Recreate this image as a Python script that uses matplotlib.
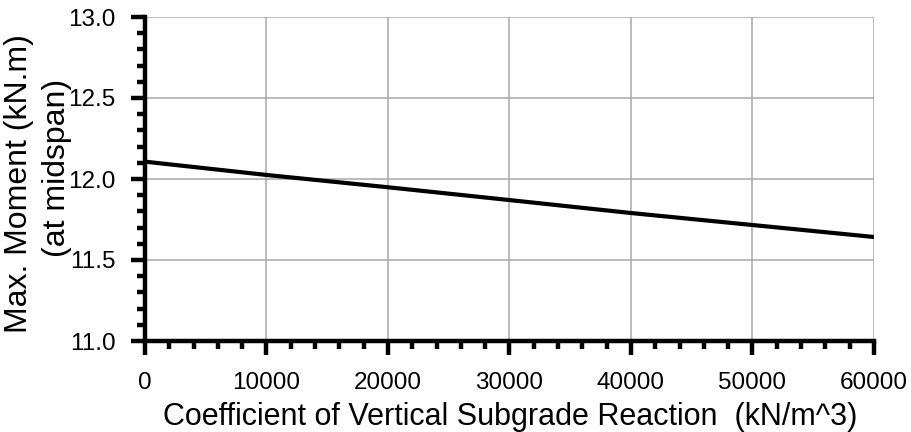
import matplotlib
matplotlib.use("Agg")
import matplotlib.pyplot as plt
from matplotlib.ticker import MultipleLocator

k_values = [0, 10000, 20000, 30000, 40000, 50000, 60000]
max_moment = [12.107, 12.025, 11.949, 11.870, 11.790, 11.716, 11.642]

x_ticks = [0, 10000, 20000, 30000, 40000, 50000, 60000]
y_ticks = [11.0, 11.5, 12.0, 12.5, 13.0]

plt.rcParams['font.family'] = ['Liberation Sans', 'DejaVu Sans']

fig = plt.figure(figsize=(9.12, 4.32), dpi=100)
ax = fig.add_axes([145/912, 1-341/432, (874-145)/912, (341-17)/432])

ax.plot(k_values, max_moment, color='black', lw=3, solid_capstyle='butt', zorder=3)

ax.set_xlim(0, 60000)
ax.set_ylim(11.0, 13.0)
ax.set_xticks(x_ticks)
ax.set_yticks(y_ticks)
ax.set_yticklabels([f"{v:.1f}" for v in y_ticks])
ax.xaxis.set_minor_locator(MultipleLocator(2000))
ax.yaxis.set_minor_locator(MultipleLocator(0.1))

ax.grid(True, which='major', color='#a8a8a8', lw=1.1, zorder=0)
ax.set_axisbelow(True)

for s in ['top', 'right']:
    ax.spines[s].set_visible(False)
for s in ['left', 'bottom']:
    ax.spines[s].set_linewidth(3.2)
    ax.spines[s].set_capstyle('projecting')

ax.tick_params(axis='both', which='major', direction='out', length=10, width=3.2,
               labelsize=17.5)
ax.tick_params(axis='both', which='minor', direction='out', length=5.5, width=3.2)
ax.tick_params(axis='x', which='major', pad=12.5)
ax.tick_params(axis='y', which='major', pad=11)

fig.text(510/912, 7/432, "Coefficient of Vertical Subgrade Reaction  (kN/m^3)",
         ha='center', va='baseline', fontsize=22)

fig.text(19/912, 1-184/432, "Max. Moment (kN.m)", rotation=90, ha='center', va='center', fontsize=23)
fig.text(57/912, 1-168/432, "(at midspan)", rotation=90, ha='center', va='center', fontsize=23)

fig.savefig("out.png", dpi=100)
